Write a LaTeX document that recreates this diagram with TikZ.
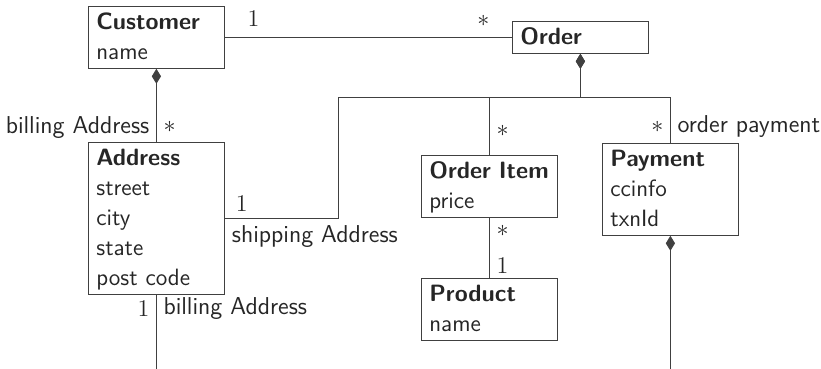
\documentclass[tikz,border=0pt]{standalone}
\usetikzlibrary{arrows.meta}
\newcommand{\ustrut}{\rule[-4pt]{0pt}{15pt}}
\tikzset{
  umlclass/.style={draw=black!75, anchor=north west, text width=60pt, align=left,
    inner xsep=4pt, inner ysep=0.5pt, text=black!85,
    font=\sffamily\fontsize{11.8}{15}\selectfont,
    execute at begin node=\ustrut, execute at end node=\ustrut},
  assoc/.style={draw=black!75, line width=0.45pt},
  comp/.style={assoc, {Diamond[length=7.5pt,width=4.6pt]}-},
  role/.style={text=black!85, font=\sffamily\fontsize{12.2}{14}\selectfont}
}
\begin{document}
\begin{tikzpicture}[x=0.5pt, y=-0.5pt]
			%%%%% START %%%%%
			\useasboundingbox (0,0) rectangle (821,369);
			
			\node[umlclass] (customer) at (88,6) {\textbf{Customer}\\name};
			\node[umlclass] (order) at (512,21) {\textbf{Order}};
			\node[umlclass] (address) at (88,142) {\textbf{Address}\\street\\city\\state\\post code};
			\node[umlclass] (item) at (421,155) {\textbf{Order~Item}\\price};
			\node[umlclass] (product) at (421,278) {\textbf{Product}\\name};
			\node[umlclass] (payment) at (602,143) {\textbf{Payment}\\ccinfo\\txnId};
			
			\coordinate (bus) at (338,97);
			\coordinate (bottom) at (0,369);
			
			\draw[assoc] (customer) -- (order)
				node[role, pos=0.1, above=2pt] {$1$}
				node[role, pos=0.9, above=2pt] {$*$};
			
			\draw[comp] (customer.south) -- (address.north)
				node[role, pos=0.8, left] {billing Address}
				node[role, pos=0.8, right] {$*$};
			
			\draw[assoc] (address.south) -- (address.south |- bottom)
				node[role, pos=0.19, left] {$1$}
				node[role, pos=0.19, right] {billing Address};
			
			\draw[assoc, -{Diamond[length=7.5pt,width=4.6pt]}] (address.east)
				node[role, anchor=south west, xshift=2pt] {$1$}
				node[role, anchor=north west] {shipping Address}
				-| (bus) -| (order.south);
			
			\draw[comp] (order.south) |- (payment.north |- bus) -- (payment.north)
				node[role, pos=0.65, left] {$*$}
				node[role, pos=0.65, right] {order payment};
			
			\draw[assoc] (item.north |- bus) -- (item.north)
				node[role, pos=0.59, right] {$*$};
			
			\draw[assoc] (item.south) -- (product.north)
				node[role, pos=0.22, right] {$*$}
				node[role, pos=0.8, right] {$1$};
			
			\draw[comp] (payment.south) -- (payment.south |- bottom);
			%%%%% END %%%%%
\end{tikzpicture}
\end{document}
